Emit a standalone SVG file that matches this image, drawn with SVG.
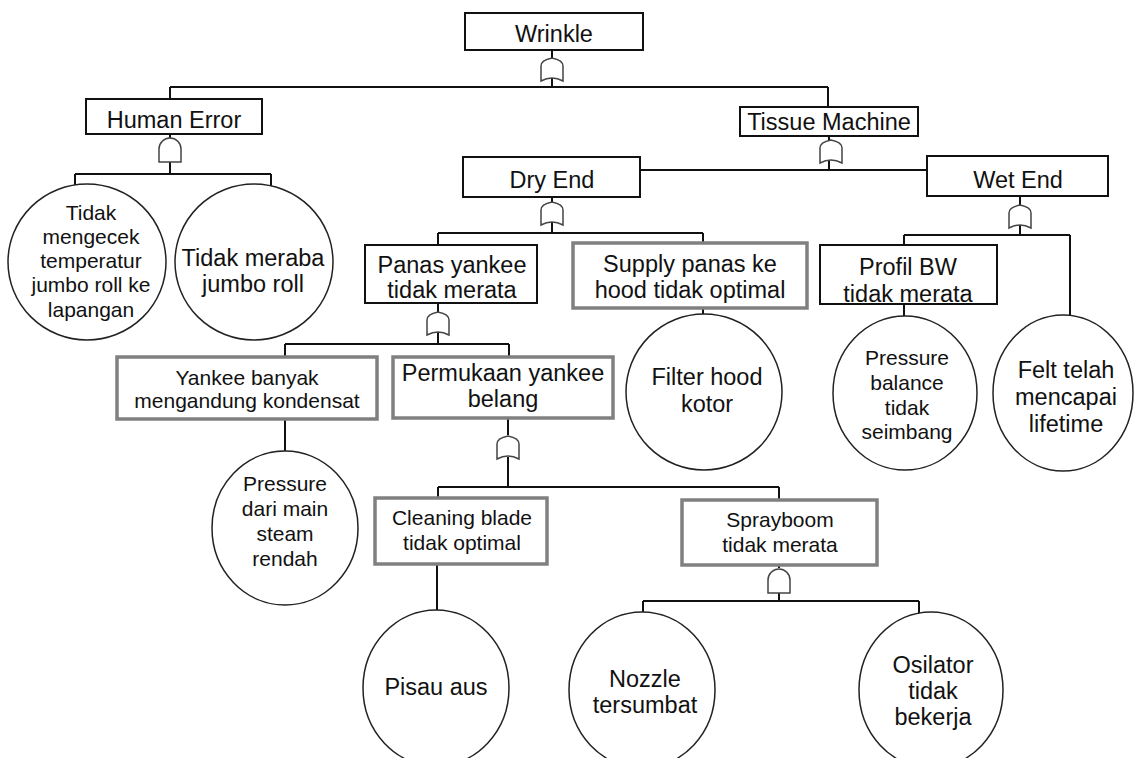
<svg xmlns="http://www.w3.org/2000/svg" xmlns:xlink="http://www.w3.org/1999/xlink" width="1134" height="758" viewBox="0 0 1134 758">
<defs>
<style>
.t{font-family:"Liberation Sans",Arial,sans-serif;font-size:23.5px;fill:#111;text-anchor:middle}
.s{font-size:21px}
.bk{fill:#fff;stroke:#111;stroke-width:2}
.gr{fill:#fff;stroke:#808080;stroke-width:3.5}
.c{fill:#fff;stroke:#222;stroke-width:1.5}
.ln{fill:none;stroke:#111;stroke-width:2}
.g{fill:#fff;stroke:#444;stroke-width:1.5}
</style>
<path id="or" d="M -11,23 L -11,8 C -11,3 -5,1 0,0 C 5,1 11,3 11,8 L 11,23 Q 0,17 -11,23 Z"/>
<path id="and" d="M -11,24 L -11,11 A 11,11 0 0 1 11,11 L 11,24 Z"/>
</defs>
<rect width="1134" height="758" fill="#fff"/>
<g id="connectors" class="ln">
<path d="M552,50 V58 M552,78 V87 M170,87 H828 M170,87 V99 M828,87 V107"/>
<path d="M170,134 V138 M170,162 V174 M75,174 H271 M75,174 V186 M271,174 V186"/>
<path d="M829,136 V140 M829,160 V170 M640,170 H927"/>
<path d="M552,197 V202 M552,222 V233 M438,233 H703 M438,233 V245 M703,233 V243"/>
<path d="M1020,196 V205 M1020,224 V235 M904,235 H1070 M904,235 V245 M1070,235 V316 M904,304 V316 M703,308 V314"/>
<path d="M438,303 V312 M438,331 V344 M285,344 H509 M285,344 V357 M509,344 V357 M285,419 V451"/>
<path d="M508,418 V435 M508,457 V487 M438,487 H779 M438,487 V498 M779,487 V500 M437,564 V610"/>
<path d="M779,565 V568 M779,593 V601 M643,601 H919 M643,601 V612 M919,601 V613"/>
</g>
<g id="gates" class="g">
<use xlink:href="#or" x="552" y="58"/>
<use xlink:href="#and" x="170" y="138"/>
<use xlink:href="#or" x="831" y="140"/>
<use xlink:href="#or" x="552" y="202"/>
<use xlink:href="#or" x="1020" y="205"/>
<use xlink:href="#or" x="438" y="312"/>
<use xlink:href="#or" x="508" y="436"/>
<use xlink:href="#and" x="779" y="569"/>
</g>
<g id="wrinkle"><rect class="bk" x="465" y="13" width="178" height="37"/><text class="t" x="554" y="42">Wrinkle</text></g>
<g id="human-error"><rect class="bk" x="86" y="99" width="176" height="35"/><text class="t" x="174" y="128">Human Error</text></g>
<g id="tissue-machine"><rect class="bk" x="740" y="107" width="178" height="29"/><text class="t" x="829" y="130">Tissue Machine</text></g>
<g id="dry-end"><rect class="bk" x="463" y="157" width="177" height="40"/><text class="t" x="552" y="188">Dry End</text></g>
<g id="wet-end"><rect class="bk" x="927" y="156" width="181" height="40"/><text class="t" x="1018" y="188">Wet End</text></g>
<g id="tidak-mengecek"><ellipse class="c" cx="87" cy="262" rx="79" ry="78"/><text class="t s" x="91"><tspan x="91" y="220">Tidak</tspan><tspan x="91" y="244">mengecek</tspan><tspan x="91" y="268">temperatur</tspan><tspan x="91" y="292">jumbo roll ke</tspan><tspan x="91" y="317">lapangan</tspan></text></g>
<g id="tidak-meraba"><ellipse class="c" cx="254" cy="262" rx="79" ry="78"/><text class="t"><tspan x="253" y="266">Tidak meraba</tspan><tspan x="253" y="292">jumbo roll</tspan></text></g>
<g id="panas-yankee"><rect class="bk" x="365" y="245" width="172" height="58"/><text class="t"><tspan x="452" y="273">Panas yankee</tspan><tspan x="452" y="298">tidak merata</tspan></text></g>
<g id="supply-panas"><rect class="gr" x="573" y="243" width="234" height="65"/><text class="t"><tspan x="690" y="272">Supply panas ke</tspan><tspan x="690" y="298">hood tidak optimal</tspan></text></g>
<g id="profil-bw"><rect class="bk" x="820" y="245" width="177" height="59"/><text class="t"><tspan x="908" y="275">Profil BW</tspan><tspan x="908" y="302">tidak merata</tspan></text></g>
<g id="filter-hood"><ellipse class="c" cx="704" cy="392" rx="78" ry="78"/><text class="t"><tspan x="707" y="385">Filter hood</tspan><tspan x="707" y="412">kotor</tspan></text></g>
<g id="pressure-balance"><ellipse class="c" cx="905" cy="393" rx="72" ry="77"/><text class="t s"><tspan x="907" y="365">Pressure</tspan><tspan x="907" y="390">balance</tspan><tspan x="907" y="415">tidak</tspan><tspan x="907" y="439">seimbang</tspan></text></g>
<g id="felt"><ellipse class="c" cx="1063" cy="393" rx="70" ry="78"/><text class="t"><tspan x="1066" y="378">Felt telah</tspan><tspan x="1066" y="405">mencapai</tspan><tspan x="1066" y="432">lifetime</tspan></text></g>
<g id="yankee-kondensat"><rect class="gr" x="117" y="357" width="260" height="62"/><text class="t s"><tspan x="247" y="385">Yankee banyak</tspan><tspan x="247" y="408">mengandung kondensat</tspan></text></g>
<g id="permukaan"><rect class="gr" x="393" y="357" width="220" height="61"/><text class="t"><tspan x="503" y="381">Permukaan yankee</tspan><tspan x="503" y="407">belang</tspan></text></g>
<g id="pressure-steam"><ellipse class="c" cx="285" cy="528" rx="73" ry="77"/><text class="t s"><tspan x="285" y="491">Pressure</tspan><tspan x="285" y="516">dari main</tspan><tspan x="285" y="541">steam</tspan><tspan x="285" y="566">rendah</tspan></text></g>
<g id="cleaning-blade"><rect class="gr" x="375" y="498" width="172" height="66"/><text class="t s"><tspan x="462" y="525">Cleaning blade</tspan><tspan x="462" y="550">tidak optimal</tspan></text></g>
<g id="sprayboom"><rect class="gr" x="682" y="500" width="195" height="65"/><text class="t s"><tspan x="780" y="527">Sprayboom</tspan><tspan x="780" y="552">tidak merata</tspan></text></g>
<g id="pisau"><ellipse class="c" cx="436" cy="688" rx="73" ry="78"/><text class="t" x="436" y="695">Pisau aus</text></g>
<g id="nozzle"><ellipse class="c" cx="642" cy="690" rx="73" ry="78"/><text class="t"><tspan x="645" y="687">Nozzle</tspan><tspan x="645" y="713">tersumbat</tspan></text></g>
<g id="osilator"><ellipse class="c" cx="931" cy="690" rx="72" ry="78"/><text class="t"><tspan x="933" y="673">Osilator</tspan><tspan x="933" y="699">tidak</tspan><tspan x="933" y="725">bekerja</tspan></text></g>
</svg>
